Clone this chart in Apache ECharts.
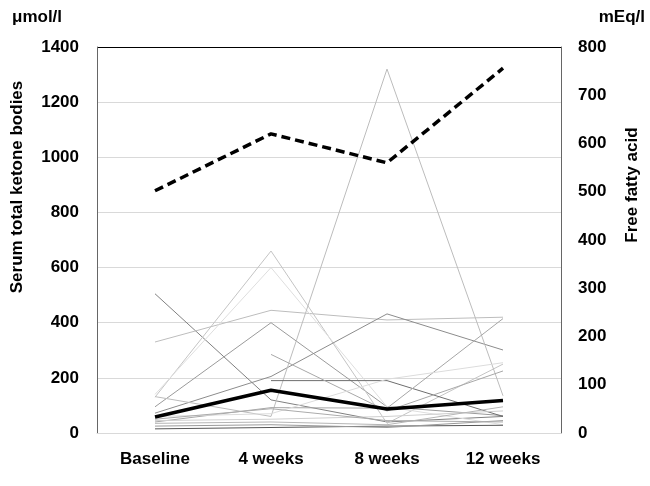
<!DOCTYPE html>
<html>
<head>
<meta charset="utf-8">
<script src="https://cdn.jsdelivr.net/npm/echarts@6/dist/echarts.min.js"></script>
<style>html,body{margin:0;padding:0;background:#fff}#c{width:650px;height:486px}</style>
</head>
<body>
<div id="c"></div>
<script>
// ---- data ----
const categories = ['Baseline', '4 weeks', '8 weeks', '12 weeks'];
const leftTicks = [0, 200, 400, 600, 800, 1000, 1200, 1400];
const rightTicks = [0, 100, 200, 300, 400, 500, 600, 700, 800];
const ketoneMean = [58, 155, 87, 118];      // μmol/l, left axis
const ffaMean = [502, 620, 560, 756];        // mEq/l, right axis
const p01 = [505, 120, 40, 60];
const p02 = [330, 445, 410, 420];
const p03 = [95, 400, 95, 63];
const p04 = [130, 660, 35, 250];
const p05 = [140, 600, 95, 30];
const p06 = [72, 205, 432, 301];
const p07 = [132, 60, 1320, 135];
const p08 = [null, 190, 190, 60];
const p09 = [null, 285, 80, 225];
const p10 = [40, 92, 90, 415];
const p11 = [60, 70, 195, 255];
const p12 = [15, 20, 25, 28];
const p13 = [25, 30, 20, 45];
const p14 = [45, 50, 60, 80];
const p15 = [35, 40, 30, 95];
const p16 = [50, 88, 45, 40];
const patients = [p01, p02, p03, p04, p05, p06, p07, p08, p09, p10, p11, p12, p13, p14, p15, p16];
const patientColors = ['#808080', '#bdbdbd', '#9a9a9a', '#c4c4c4', '#dedede', '#8c8c8c', '#bcbcbc', '#6e6e6e',
                       '#a8a8a8', '#a6a6a6', '#dcdcdc', '#555555', '#999999', '#cfcfcf', '#b5b5b5', '#ababab'];

// ---- chart ----
const FONT = 'Liberation Sans, Arial, Helvetica, sans-serif';
const FS = 17;
const chart = echarts.init(document.getElementById('c'), null, {renderer: 'canvas'});
const series = patients.map((d, i) => ({
  type: 'line', data: d, yAxisIndex: 0, symbol: 'none', silent: true,
  lineStyle: {width: 1, color: patientColors[i]}, z: 2
}));
series.push({
  type: 'line', data: ketoneMean, yAxisIndex: 0, symbol: 'none', silent: true,
  lineStyle: {width: 3.5, color: '#000'}, z: 4
});
series.push({
  type: 'line', data: ffaMean, yAxisIndex: 1, symbol: 'none', silent: true,
  lineStyle: {width: 3.5, color: '#000', type: [9, 5]}, z: 5
});
const gridColors = leftTicks.map((t, i) => i === leftTicks.length - 1 ? '#000' : '#d9d9d9');
const labelStyle = {color: '#000', fontWeight: 'bold', fontSize: FS, fontFamily: FONT};
chart.setOption({
  animation: false,
  grid: {left: 97, right: 89, top: 47, bottom: 53},
  xAxis: {
    type: 'category', data: categories, boundaryGap: true,
    axisLine: {show: true, lineStyle: {color: '#d9d9d9', width: 1}},
    axisTick: {show: false},
    axisLabel: Object.assign({margin: 18}, labelStyle)
  },
  yAxis: [{
    type: 'value', min: leftTicks[0], max: leftTicks[leftTicks.length - 1], interval: 200,
    axisLine: {show: true, lineStyle: {color: '#666', width: 1}},
    axisTick: {show: false},
    splitLine: {show: true, lineStyle: {color: gridColors, width: 1}},
    axisLabel: Object.assign({margin: 18, formatter: v => String(v)}, labelStyle)
  }, {
    type: 'value', min: rightTicks[0], max: rightTicks[rightTicks.length - 1], interval: 100,
    position: 'right',
    axisLine: {show: true, lineStyle: {color: '#666', width: 1}},
    axisTick: {show: false},
    splitLine: {show: false},
    axisLabel: Object.assign({margin: 17, formatter: v => String(v)}, labelStyle)
  }],
  graphic: [
    {type: 'text', left: 12, top: 9, style: {text: 'μmol/l', font: 'bold 17px ' + FONT, fill: '#000'}},
    {type: 'text', right: 5, top: 9, style: {text: 'mEq/l', font: 'bold 17px ' + FONT, fill: '#000'}},
    {type: 'text', x: 17, y: 187, rotation: Math.PI / 2,
     style: {text: 'Serum total ketone bodies', font: 'bold 17px ' + FONT, fill: '#000', align: 'center', verticalAlign: 'middle'}},
    {type: 'text', x: 632, y: 185, rotation: Math.PI / 2,
     style: {text: 'Free fatty acid', font: 'bold 17px ' + FONT, fill: '#000', align: 'center', verticalAlign: 'middle'}}
  ],
  series: series
});
</script>
</body>
</html>
